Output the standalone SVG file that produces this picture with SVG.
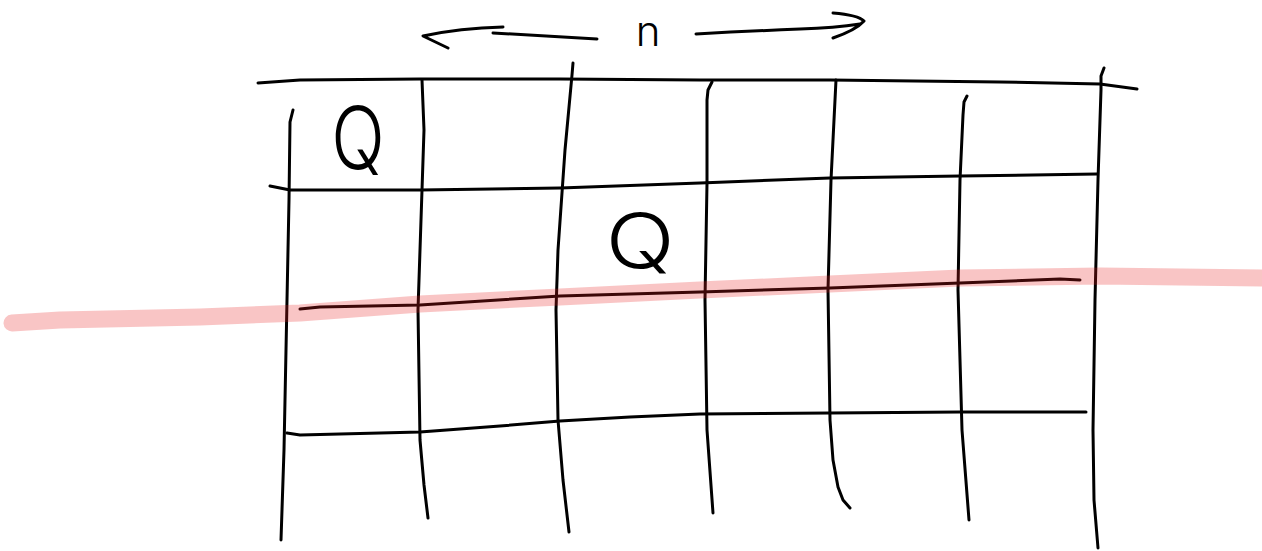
<svg xmlns="http://www.w3.org/2000/svg" width="1262" height="551" viewBox="0 0 1262 551">
<style>
.ink{fill:none;stroke:#000;stroke-width:3;stroke-linecap:round;stroke-linejoin:round}
.hl{fill:none;stroke:rgb(230,30,30);stroke-opacity:0.26;stroke-width:17;stroke-linecap:round;stroke-linejoin:round}
.lbl{font-family:Inter,"Liberation Sans",sans-serif;font-weight:300;fill:#000}
</style>
<rect width="1262" height="551" fill="#fff"/>
<g id="arrow-n">
<path class="ink" d="M597,39 Q545,36 493,33 M503,27 Q460,28 423,36 L448,48"/>
<path class="ink" d="M696,34 Q750,31 800,29 Q835,28 860,24 M833,13 Q858,15 864,21 Q856,30 833,38"/>
<text class="lbl" x="648" y="46" font-size="42" text-anchor="middle">n</text>
</g>
<g id="grid-rows">
<polyline class="ink" points="258,83 300,80 420,79 560,79 700,80 830,80 1000,82 1100,84 1137,89"/>
<polyline class="ink" points="270,186 290,190 420,190 560,188 700,183 830,178 960,176 1097,174"/>
<polyline class="ink" points="300,309 320,307 420,305 560,296 700,292 830,288 960,283 1060,279 1080,280"/>
<polyline class="ink" points="287,433 300,435 420,432 500,426 560,421 630,417 700,414 830,413 960,412 1086,412"/>
</g>
<g id="grid-cols">
<polyline class="ink" points="293,110 290,122 289,200 287,300 284,450 281,540"/>
<polyline class="ink" points="422,80 424,130 422,190 418,310 420,440 424,485 428,518"/>
<polyline class="ink" points="573,63 572,75 565,150 558,250 556,310 558,420 563,480 569,532"/>
<polyline class="ink" points="712,82 708,90 707,100 707,183 705,300 707,430 713,513"/>
<polyline class="ink" points="836,80 831,180 828,290 830,420 833,460 838,487 843,500 850,508"/>
<polyline class="ink" points="967,96 964,102 963,115 960,180 958,290 962,430 969,520"/>
<polyline class="ink" points="1104,68 1101,76 1101,90 1098,180 1095,300 1093,430 1094,500 1098,548"/>
</g>
<g id="queen-1">
<text class="lbl" x="358" y="169" font-size="86" text-anchor="middle" transform="translate(358,0) scale(0.82,1) translate(-358,0)">Q</text>
</g>
<g id="queen-2">
<text class="lbl" x="640" y="268" font-size="76" text-anchor="middle" transform="translate(640,0) scale(1.2,1) translate(-640,0)">Q</text>
</g>
<g id="highlight">
<polyline class="hl" points="12,323 60,320 200,317 300,313 420,304 560,297 700,290 830,284 960,278 1100,276 1262,278"/>
</g>
</svg>
